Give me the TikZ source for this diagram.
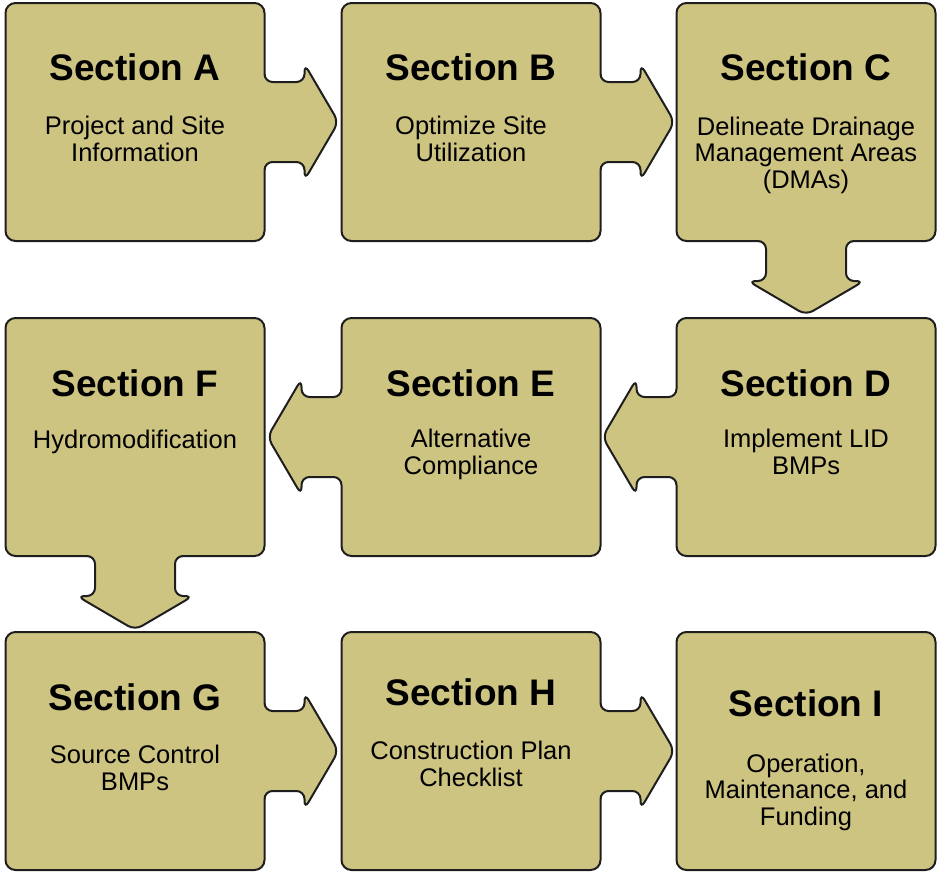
\documentclass[tikz,border=0pt]{standalone}
\usepackage{fontspec}
\setmainfont{Liberation Sans}
\usepackage{tikz}
\definecolor{tabfill}{RGB}{206,196,130}
\definecolor{tabline}{RGB}{30,30,30}

\begin{document}
\begin{tikzpicture}[x=1pt,y=-1pt,
  piece/.style={draw=tabline,fill=tabfill,line width=2pt,rounded corners=10pt,
    minimum width=259pt,minimum height=238pt,inner sep=0pt,outer sep=0pt},
  tab/.style={draw=tabline,fill=tabfill,line width=2pt,rounded corners=8pt},
  title/.style={font=\fontsize{37}{40}\selectfont\bfseries},
  body/.style={font=\fontsize{25.5}{26.5}\selectfont,align=center,anchor=base,inner sep=0pt}]
  \useasboundingbox (0,0) rectangle (937,873);
  % the nine sections
  \node[piece] (a) at (135,122) {};
  \node[piece] (b) at (471,122) {};
  \node[piece] (c) at (806,122) {};
  \node[piece] (d) at (806,437) {};
  \node[piece] (e) at (471,437) {};
  \node[piece] (f) at (135,437) {};
  \node[piece] (g) at (135,751) {};
  \node[piece] (h) at (471,751) {};
  \node[piece] (i) at (806,751) {};
  % arrow tabs
  \foreach \side/\turn in {a.east/0,b.east/0,c.south/-90,d.west/180,e.west/180,f.south/-90,g.east/0,h.east/0}{
    \begin{scope}[shift={(\side)},rotate=\turn]
      \fill[tabfill] (-1.5,-48) rectangle (0.5,48);
      \filldraw[tab] (0,-48) -- (0,-40) -- (40,-40) -- (40,-58) -- (74,0)
        -- (40,58) -- (40,40) -- (0,40) -- (0,48);
    \end{scope}}
  % titles
  \node[title] (a-title) at (135,67)  {Section A};
  \node[title] (b-title) at (471,67)  {Section B};
  \node[title] (c-title) at (806,67)  {Section C};
  \node[title] (d-title) at (806,383) {Section D};
  \node[title] (e-title) at (471,383) {Section E};
  \node[title] (f-title) at (135,383) {Section F};
  \node[title] (g-title) at (135,697) {Section G};
  \node[title] (h-title) at (471,692) {Section H};
  \node[title] (i-title) at (806,703) {Section I};
  % descriptions (placed at the baseline of their last line)
  \node[body] (a-text) at (135,161) {Project and Site\\Information};
  \node[body] (b-text) at (471,161) {Optimize Site\\Utilization};
  \node[body] (c-text) at (806,188) {Delineate Drainage\\Management Areas\\(DMAs)};
  \node[body] (d-text) at (806,474) {Implement LID\\BMPs};
  \node[body] (e-text) at (471,474) {Alternative\\Compliance};
  \node[body] (f-text) at (135,448) {Hydromodification};
  \node[body] (g-text) at (135,790) {Source Control\\BMPs};
  \node[body] (h-text) at (471,786) {Construction Plan\\Checklist};
  \node[body] (i-text) at (806,825) {Operation,\\Maintenance, and\\Funding};
\end{tikzpicture}
\end{document}
